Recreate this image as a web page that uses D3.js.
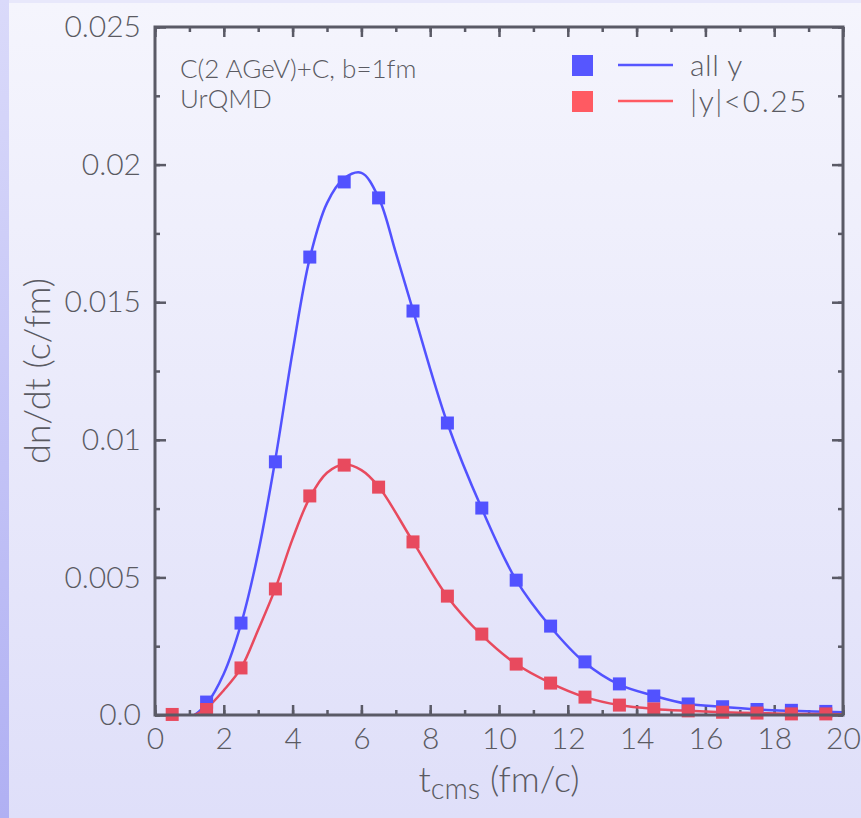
<!DOCTYPE html>
<html>
<head>
<meta charset="utf-8">
<script src="https://cdn.jsdelivr.net/npm/d3@7"></script>
<style>
  html, body { margin: 0; padding: 0; }
  body { width: 861px; height: 818px; overflow: hidden; }
  text { font-family: Lato, "Open Sans", sans-serif; font-weight: 300; fill: #5a5a62; }
</style>
</head>
<body>
<div id="chart"></div>
<script>
// points, t in fm/c
const tAll = [1.5, 2.5, 3.5, 4.5, 5.5, 6.5, 7.5, 8.5, 9.5, 10.5, 11.5, 12.5, 13.5, 14.5, 15.5, 16.5, 17.5, 18.5, 19.5]
const allY = [0.00047, 0.00334, 0.0092, 0.01664, 0.01937, 0.01879, 0.01468, 0.01061, 0.00752, 0.0049, 0.00323, 0.00193, 0.00113, 0.00069, 0.0004, 0.0003, 0.0002, 0.00017, 0.00013]
const tMid = [0.5, 1.5, 2.5, 3.5, 4.5, 5.5, 6.5, 7.5, 8.5, 9.5, 10.5, 11.5, 12.5, 13.5, 14.5, 15.5, 16.5, 17.5, 18.5, 19.5]
const midY = [0.00002, 0.0002, 0.00171, 0.00458, 0.00796, 0.00908, 0.00828, 0.00629, 0.00432, 0.00294, 0.00185, 0.00116, 0.00065, 0.00036, 0.00022, 0.00015, 0.0001, 0.00007, 0.00004, 0.00004]

// fitted curves
const fitTAll = [1.15, 1.5, 2.0, 2.5, 3.0, 3.5, 4.0, 4.5, 5.0, 5.5, 6.0, 6.5, 7.0, 7.5, 8.5, 9.5, 10.5, 11.5, 12.5, 13.5, 14.5, 15.5, 16.5, 17.5, 18.5, 20]
const fitAll = [0, 0.0004, 0.0015, 0.0033, 0.0059, 0.0093, 0.0132, 0.0166, 0.0186, 0.0195, 0.0197, 0.0188, 0.0168, 0.0147, 0.0106, 0.0075, 0.0049, 0.0032, 0.0019, 0.0011, 0.0007, 0.0004, 0.0003, 0.0002, 0.00015, 0.0001]
const fitTMid = [1.15, 1.5, 2.0, 2.5, 3.0, 3.5, 4.0, 4.5, 5.0, 5.5, 6.0, 6.5, 7.5, 8.5, 9.5, 10.5, 11.5, 12.5, 13.5, 14.5, 15.5, 16.5, 17.5, 18.5, 20]
const fitMid = [0, 0.00025, 0.0009, 0.0017, 0.0031, 0.0046, 0.0064, 0.0079, 0.0088, 0.0091, 0.0089, 0.0083, 0.0063, 0.0043, 0.0029, 0.00185, 0.00116, 0.00065, 0.00036, 0.00022, 0.00015, 0.0001, 0.00007, 0.00004, 0.00003]

const xMajor = [0, 2, 4, 6, 8, 10, 12, 14, 16, 18, 20]
const yMajor = [0, 0.005, 0.01, 0.015, 0.02, 0.025]
const yLabels = ["0.0", "0.005", "0.01", "0.015", "0.02", "0.025"]

const seriesNames = ["all y", "|y|<0.25"]
const colors = ["#5252ff", "#e84a5e"]
const legendColors = ["#5656ff", "#ff5a62"]

const W = 861, H = 818
const margin = { top: 27, right: 18, bottom: 103, left: 155 }
const width = W - margin.left - margin.right
const height = H - margin.top - margin.bottom

const svg = d3.select("#chart").append("svg")
    .attr("width", W)
    .attr("height", H)

// background gradients
const defs = svg.append("defs")
const g1 = defs.append("linearGradient").attr("id", "bgMain")
    .attr("x1", 0).attr("y1", 0).attr("x2", 0).attr("y2", 1)
g1.append("stop").attr("offset", 0).attr("stop-color", "#f5f5fd")
g1.append("stop").attr("offset", 1).attr("stop-color", "#dfdff9")
const g2 = defs.append("linearGradient").attr("id", "bgLeft")
    .attr("x1", 0).attr("y1", 0).attr("x2", 0).attr("y2", 1)
g2.append("stop").attr("offset", 0).attr("stop-color", "#dadafa")
g2.append("stop").attr("offset", 1).attr("stop-color", "#b0b0f3")

svg.append("rect").attr("width", W).attr("height", H).attr("fill", "#e8e8fb")
svg.append("rect").attr("x", 9).attr("y", 3).attr("width", W - 9).attr("height", H - 3).attr("fill", "url(#bgMain)")
svg.append("rect").attr("x", 0).attr("y", 0).attr("width", 9).attr("height", H).attr("fill", "url(#bgLeft)")

const plot = svg.append("g")
    .attr("transform", "translate(" + margin.left + "," + margin.top + ")")

const x = d3.scaleLinear().domain([0, 20]).range([0, width])
const y = d3.scaleLinear().domain([0, 0.025]).range([height, 0])

const xMinor = d3.range(0, 21, 1)
const yMinor = d3.range(0, 0.02501, 0.0025)

// axes: ticks pointing inward on all four sides
const axisColor = "#5a5a66"
function styleAxis(sel) {
    sel.selectAll("path").remove()
    sel.selectAll("line").attr("stroke", axisColor).attr("stroke-width", 2.5)
}
plot.append("g").attr("transform", "translate(0," + height + ")")
    .call(d3.axisBottom(x).tickValues(xMinor).tickSize(-5).tickFormat(""))
    .call(styleAxis)
plot.append("g").attr("transform", "translate(0," + height + ")")
    .call(d3.axisBottom(x).tickValues(xMajor).tickSize(-10).tickPadding(11).tickFormat(d3.format("d")))
    .call(styleAxis)
    .selectAll("text").attr("font-size", 30).attr("dy", "0.75em")
plot.append("g")
    .call(d3.axisTop(x).tickValues(xMinor).tickSize(-5).tickFormat(""))
    .call(styleAxis)
plot.append("g")
    .call(d3.axisTop(x).tickValues(xMajor).tickSize(-10).tickFormat(""))
    .call(styleAxis)

plot.append("g")
    .call(d3.axisLeft(y).tickValues(yMinor).tickSize(-5).tickFormat(""))
    .call(styleAxis)
plot.append("g")
    .call(d3.axisLeft(y).tickValues(yMajor).tickSize(-11).tickPadding(14).tickFormat((d, i) => yLabels[i]))
    .call(styleAxis)
    .selectAll("text").attr("font-size", 30)
plot.append("g").attr("transform", "translate(" + width + ",0)")
    .call(d3.axisRight(y).tickValues(yMinor).tickSize(-5).tickFormat(""))
    .call(styleAxis)
plot.append("g").attr("transform", "translate(" + width + ",0)")
    .call(d3.axisRight(y).tickValues(yMajor).tickSize(-11).tickFormat(""))
    .call(styleAxis)

plot.selectAll(".tick text").attr("fill", "#5a5a62").style("font-family", "Lato, sans-serif").style("font-weight", 300)

// curves
const line = d3.line()
    .x(d => x(d[0]))
    .y(d => y(d[1]))
    .curve(d3.curveCatmullRom.alpha(0.5))

const fits = [
    d3.zip(fitTAll, fitAll),
    d3.zip(fitTMid, fitMid)
]
plot.selectAll(".fit")
    .data(fits)
    .enter().append("path")
    .attr("class", "fit")
    .attr("d", d => line(d))
    .attr("fill", "none")
    .attr("stroke", (d, i) => colors[i])
    .attr("stroke-width", 2.5)

// points
const pts = [
    d3.zip(tAll, allY),
    d3.zip(tMid, midY)
]
const ms = 13
pts.forEach((s, i) => {
    plot.append("g")
        .selectAll("rect")
        .data(s)
        .enter().append("rect")
        .attr("x", d => x(d[0]) - ms / 2)
        .attr("y", d => y(d[1]) - ms / 2)
        .attr("width", ms)
        .attr("height", ms)
        .attr("fill", colors[i])
})

// frame
plot.append("rect")
    .attr("width", width)
    .attr("height", height)
    .attr("fill", "none")
    .attr("stroke", axisColor)
    .attr("stroke-width", 3)

// annotation
plot.append("text").attr("x", 25).attr("y", 51).attr("font-size", 26).text("C(2 AGeV)+C, b=1fm")
plot.append("text").attr("x", 25).attr("y", 81).attr("font-size", 26).text("UrQMD")

// legend
const legend = plot.append("g").attr("transform", "translate(417,28)")
seriesNames.forEach((name, i) => {
    const row = legend.append("g").attr("transform", "translate(0," + (i * 36) + ")")
    row.append("rect").attr("x", 0).attr("y", 0).attr("width", 21).attr("height", 21).attr("fill", legendColors[i])
    row.append("line").attr("x1", 46).attr("x2", 101).attr("y1", 10).attr("y2", 10)
        .attr("stroke", legendColors[i]).attr("stroke-width", 2.5)
    row.append("text").attr("x", 118).attr("y", 21).attr("font-size", 30)
        .attr("letter-spacing", i === 1 ? 1.5 : 0.5).text(name)
})

// axis titles
const xt = svg.append("text")
    .attr("x", margin.left + width / 2)
    .attr("y", 792)
    .attr("text-anchor", "middle")
    .attr("font-size", 36)
xt.append("tspan").text("t")
xt.append("tspan").attr("font-size", 29).attr("dy", 7).text("cms")
xt.append("tspan").attr("dy", -7).text(" (fm/c)")

svg.append("text")
    .attr("transform", "translate(50," + (margin.top + height / 2) + ") rotate(-90)")
    .attr("text-anchor", "middle")
    .attr("font-size", 36)
    .text("dn/dt (c/fm)")
</script>
</body>
</html>
